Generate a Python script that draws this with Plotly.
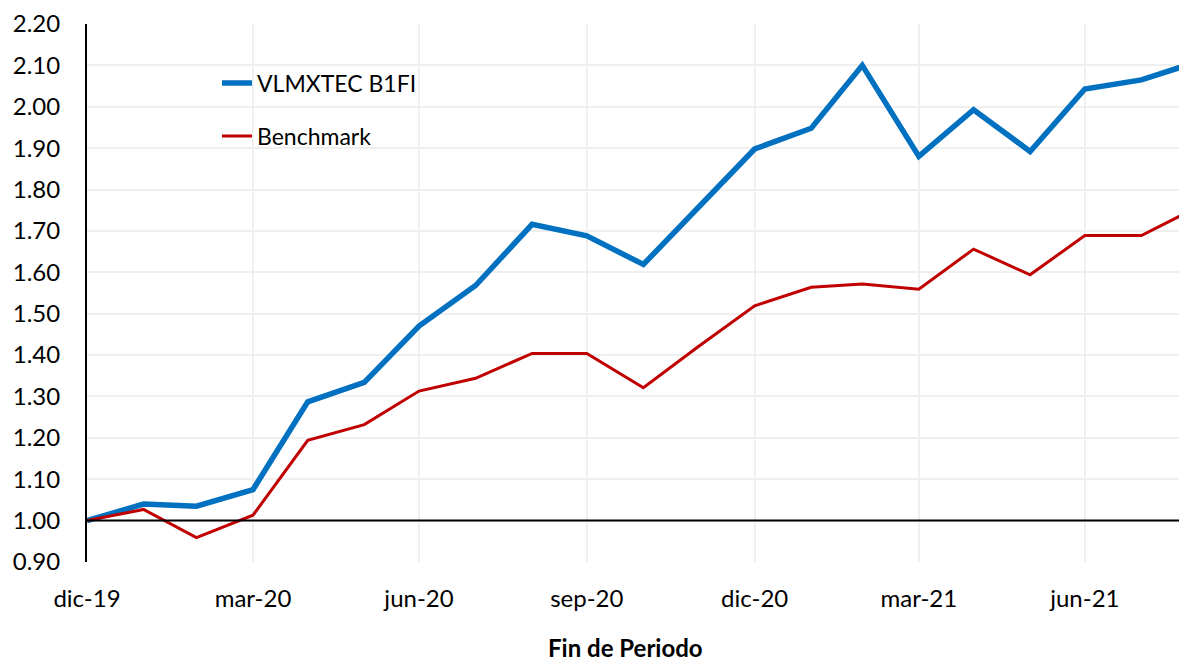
import plotly.graph_objects as go

# ---- data ----
dates = ["2019-12-31", "2020-01-31", "2020-02-29", "2020-03-31", "2020-04-30", "2020-05-31",
         "2020-06-30", "2020-07-31", "2020-08-31", "2020-09-30", "2020-10-31", "2020-11-30",
         "2020-12-31", "2021-01-31", "2021-02-28", "2021-03-31", "2021-04-30", "2021-05-31",
         "2021-06-30", "2021-07-31", "2021-08-31"]
fund = [1.00, 1.04, 1.035, 1.075, 1.287, 1.334, 1.470, 1.568, 1.716, 1.688, 1.619, 1.757,
        1.898, 1.948, 2.100, 1.880, 1.993, 1.892, 2.043, 2.065, 2.109]
bench = [1.00, 1.027, 0.959, 1.013, 1.194, 1.232, 1.313, 1.344, 1.404, 1.404, 1.321, 1.420,
         1.519, 1.564, 1.572, 1.559, 1.656, 1.594, 1.689, 1.689, 1.758]
x_tick_dates = ["2019-12-31", "2020-03-31", "2020-06-30", "2020-09-30", "2020-12-31",
                "2021-03-31", "2021-06-30"]
x_tick_labels = ["dic-19", "mar-20", "jun-20", "sep-20", "dic-20", "mar-21", "jun-21"]
y_ticks = [0.90, 1.00, 1.10, 1.20, 1.30, 1.40, 1.50, 1.60, 1.70, 1.80, 1.90, 2.00, 2.10, 2.20]
x_title = "Fin de Periodo"
names = ["VLMXTEC B1FI", "Benchmark"]

FONT = "Lato"

fig = go.Figure()
fig.add_trace(go.Scatter(x=dates, y=fund, mode="lines", name=names[0], legendgroup="a",
                         line=dict(color="#0070C0", width=5.5)))
fig.add_trace(go.Scatter(x=dates, y=bench, mode="lines", name=names[1], legendgroup="b",
                         line=dict(color="#C00000", width=3)))

# baseline at 1.00
fig.add_shape(type="line", xref="paper", yref="y", x0=0, x1=1, y0=1.0, y1=1.0,
              line=dict(color="black", width=2), layer="above")
# white legend box covering gridlines
fig.add_shape(type="rect", xref="paper", yref="paper",
              x0=(137 - 87) / 1100, x1=(468 - 87) / 1100,
              y0=(562 - 165) / 538, y1=(562 - 55) / 538,
              fillcolor="white", line=dict(width=0), layer="between")

# page has an 8px body margin: figure occupies page x 8..1187, y 8..661
fig.update_layout(
    width=1179, height=653,
    margin=dict(l=79, r=0, t=16, b=99),
    paper_bgcolor="white", plot_bgcolor="white",
    font=dict(family=FONT, size=24, color="black"),
    showlegend=True,
    legend=dict(x=(217 - 87) / 1100, y=0.93, xanchor="left", yanchor="top",
                bgcolor="rgba(0,0,0,0)", font=dict(family=FONT, size=23, color="black"),
                tracegroupgap=20, itemwidth=30),
    xaxis=dict(type="date", range=["2019-12-31", "2021-08-25"],
               tickvals=x_tick_dates, ticktext=x_tick_labels,
               showgrid=True, gridcolor="#EFEFEF", gridwidth=2,
               showline=False, zeroline=False, ticks="", ticklabelstandoff=20,
               tickfont=dict(family=FONT, size=24, color="black")),
    yaxis=dict(range=[0.90, 2.20], tickvals=y_ticks,
               ticktext=[f"{v:.2f}" for v in y_ticks],
               showgrid=True, gridcolor="#EFEFEF", gridwidth=2,
               showline=True, linecolor="black", linewidth=2, zeroline=False,
               ticks="", ticklabelstandoff=20,
               tickfont=dict(family=FONT, size=24, color="black")),
)

fig.add_annotation(text=f"<b>{x_title}</b>", xref="paper", yref="paper",
                   x=(625 - 87) / 1100, y=(562 - 647) / 538, showarrow=False,
                   xanchor="center", yanchor="middle",
                   font=dict(family=FONT, size=24, color="black"))

fig.write_html("out.html")
